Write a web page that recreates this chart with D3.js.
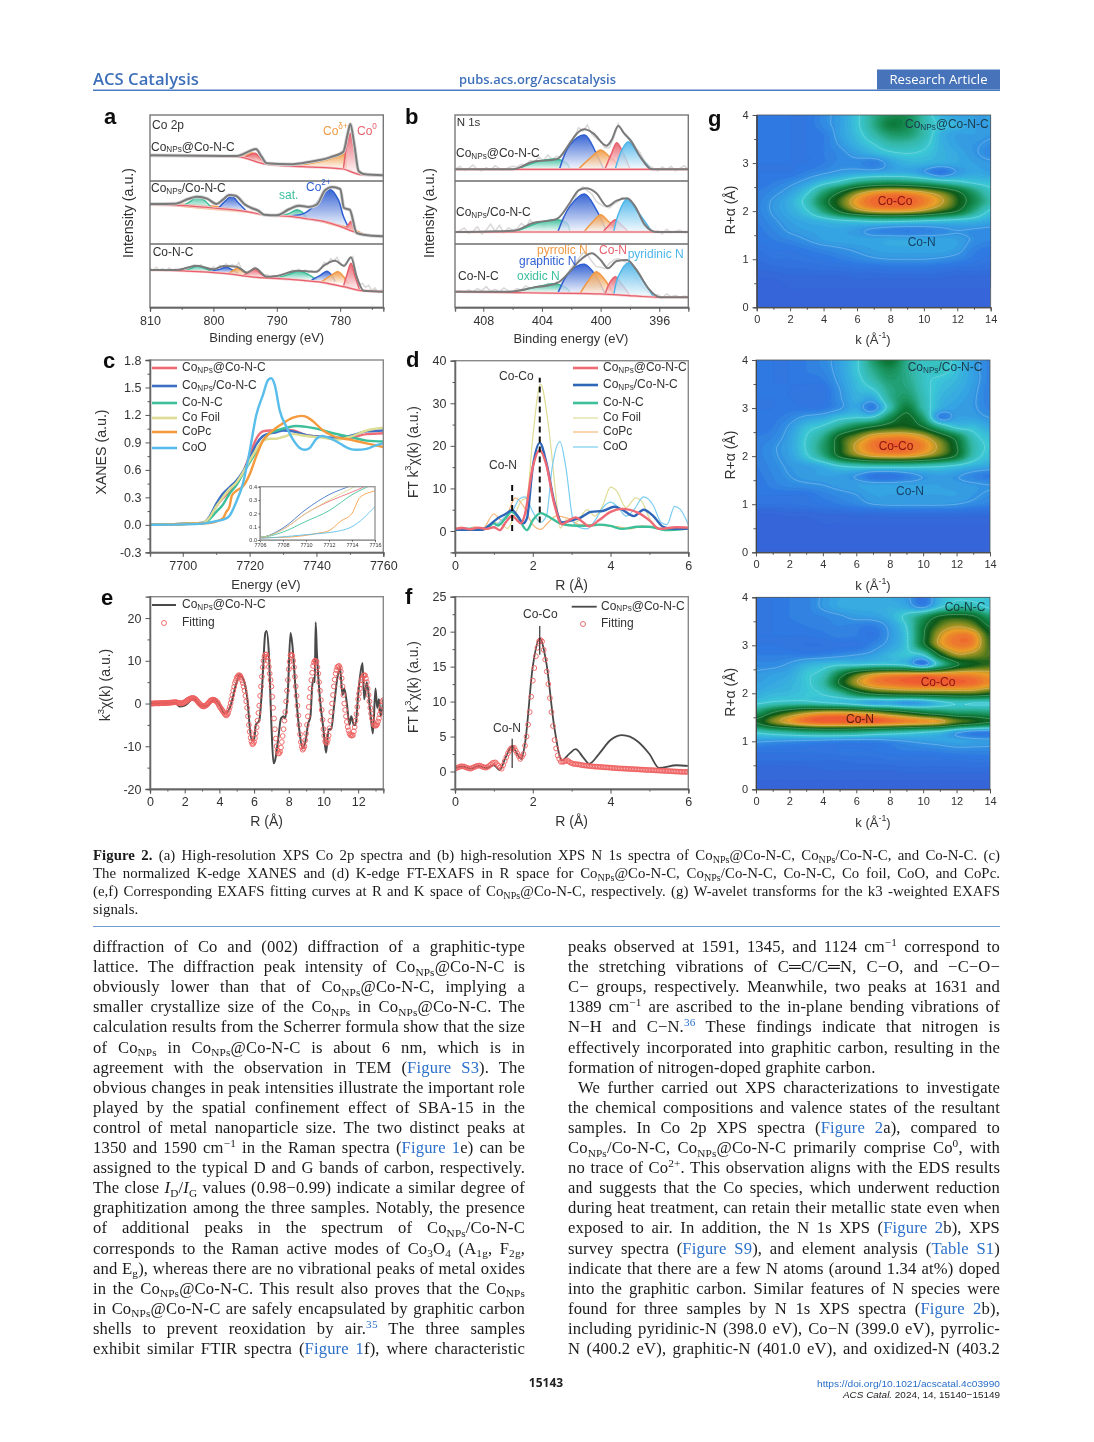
<!DOCTYPE html>
<html><head><meta charset="utf-8">
<script src="https://cdn.jsdelivr.net/npm/d3@7/dist/d3.min.js"></script>
<style>html,body{margin:0;padding:0;background:#fff}svg{display:block}text{font-family:"Liberation Sans",Arial,sans-serif;fill:#333}</style>
</head><body><div id="c"></div>
<script>
// ---------- DATA ----------
const ticksEV_a=[810,800,790,780], minorEV_a=[805,795,785,775];
const ticksEV_b=[408,404,400,396], minorEV_b=[406,402,398];
// panel a, Co 2p: [binding energy eV, intensity a.u.]
const a1Base=[[810,77],[796.3,73],[791.6,50],[785.8,43],[779.5,36],[777.9,25],[776.8,19],[773.2,17]];
const a1Total=[[810,77],[796.3,75],[794.7,86],[793.3,96],[792.4,73],[791.6,53],[787.9,50],[784.7,58],[781.6,71],[779.5,88],[778.8,143],[778.4,171],[777.8,113],[777.1,30],[776.3,21],[773.2,17]];
const a1Orange1=[[796.1,73],[795.2,78],[794.2,85],[793.4,80],[792.6,58]];
const a1Red1=[[795.3,68],[794.3,78],[793.4,83],[792.6,68],[791.8,53]];
const a1Orange2=[[786.8,46],[783.7,56],[780.5,73],[779.5,80],[779.2,83],[779.1,38]];
const a1Red2=[[779.5,36],[778.9,113],[778.4,143],[777.9,103],[777.1,25]];
const a2Base=[[810,118],[804.7,115],[800,108],[795,98],[791,85],[788,83],[785,75],[782,65],[780,53],[778,38],[776,28],[773.2,23]];
const a2Total=[[810,120],[806,121],[804,135],[802.6,142],[801,136],[799.5,120],[798.5,133],[797.5,147],[796.5,145],[795,118],[794,108],[793,101],[792,88],[790,86],[788,105],[786.5,115],[785,111],[783.7,118],[782.4,161],[781.3,171],[780,165],[779.4,108],[778.9,105],[778.5,103],[777.4,33],[776.3,28],[773.2,23]];
const a2Orange1=[[808.9,118],[803,118],[797,106],[792.6,88]];
const a2Teal1=[[804.7,116],[803.6,128],[802.6,142],[801.5,132],[800.3,109]];
const a2Blue1=[[799.2,107],[798.2,128],[797.1,143],[796,122],[794.7,96]];
const a2Teal2=[[789.2,85],[788,92],[786.8,103],[786,96],[785.3,78]];
const a2Blue2=[[789.5,85],[785.8,91],[783.7,123],[782.6,153],[781.5,163],[780.3,133],[779.5,83],[778.7,50]];
const a2Orange2=[[784.7,75],[781.6,63],[778.5,48],[775.8,25]];
const a2Red=[[779.2,45],[778.7,58],[778.3,68],[777.9,50],[777.5,30]];
const a3Base=[[810,112],[804.7,109],[798.4,102],[793.2,90],[787.9,84],[782.6,74],[779.5,62],[776.6,50],[773.2,47]];
const a3Total=[[810,112],[805.8,112],[802.6,125],[800,114],[798.4,124],[796.3,122],[794.7,104],[793.4,117],[791.6,92],[790,94],[786.8,110],[783.7,107],[782.6,125],[780.8,140],[779.4,124],[778.3,150],[777.4,92],[776.3,50],[773.2,47]];
const a3Raw=[118,110,120,112,116,108,118,112,115,113,112,118,112,122,128,122,128,120,117,110,122,114,126,120,130,124,128,120,134,112,106,108,112,120,112,105,96,98,88,96,92,98,100,96,105,112,104,114,106,112,104,110,105,112,118,135,128,146,138,150,132,125,134,145,152,100,68,72,60,66,50,58,44,52,46];
const a3Teal1=[[804.7,109],[803.6,116],[802.6,124],[801.4,117],[800.3,107]];
const a3Blue1=[[800.5,107],[799.2,113],[797.9,120],[797,112],[796.1,102]];
const a3Orange1=[[797.6,102],[796.9,110],[796.1,118],[795.2,107],[794.2,94]];
const a3Red1=[[795.5,92],[794.5,105],[793.5,115],[792.5,100],[791.6,88]];
const a3Teal2=[[790,88],[788.2,98],[786.6,109],[785,98],[783.7,82]];
const a3Blue2=[[784.5,82],[783.2,95],[782.1,108],[781.3,95],[780.8,77]];
const a3Orange2=[[782.9,77],[781.5,95],[780.3,107],[779.6,95],[778.7,70]];
const a3Red2=[[779.5,62],[778.9,100],[778.3,132],[777.7,95],[776.9,50]];
// panel b, N 1s
const b1Base=[[409.9,35],[394,35]];
const b1Total=[[409.9,35],[406,35],[404.6,58],[403,65],[402.1,113],[401.6,143],[401.1,155],[400.5,143],[399.6,106],[399.25,123],[398.8,165],[398.4,143],[397.9,118],[397.3,73],[396.5,35],[394,35]];
const b1Raw=[36,44,31,38,48,34,30,40,33,46,38,32,40,44,42,50,48,62,58,72,60,78,64,74,72,90,118,128,160,150,168,140,128,118,100,100,130,172,148,136,122,100,84,60,46,38,30,42,34,44,30,38,46,33];
const b1Teal=[[405.7,36],[404.1,60],[403.1,66],[402.3,53],[402.1,36]];
const b1Blue=[[402.8,36],[402.1,108],[401.1,138],[400.3,83],[399.8,36]];
const b1Orange=[[401.5,36],[400.6,73],[400,93],[399.4,73],[398.5,36]];
const b1Red=[[399.7,36],[399.25,83],[398.9,115],[398.45,83],[398,36]];
const b1Sky=[[399,36],[398.55,93],[398.1,118],[397.4,78],[396.6,36]];
const b2Base=[[409.9,36],[394,36]];
const b2Total=[[409.9,36],[405.95,40],[404.6,63],[403,75],[402.1,123],[401.5,161],[401,167],[400.3,153],[399.55,113],[398.9,130],[398.2,137],[397.65,113],[397,58],[396.2,36],[394,36]];
const b2Raw=[34,40,48,32,38,52,30,42,60,38,56,34,48,42,46,62,50,72,58,66,54,70,68,74,70,86,112,130,162,172,160,150,128,118,112,108,120,128,140,132,122,104,86,64,44,34,40,30,44,34,38,42,34,36];
const b2Teal=[[405.7,38],[404.1,65],[403,73],[402.3,63],[402.1,38]];
const b2Blue=[[402.9,38],[402.1,113],[401.1,150],[400.3,103],[399.6,38]];
const b2Orange=[[401.1,38],[400.5,68],[400,88],[399.4,65],[398.7,38]];
const b2Red=[[399.8,38],[399.4,58],[399,73],[398.6,58],[398.1,36]];
const b2Sky=[[399.1,38],[398.8,88],[398.2,135],[397.4,93],[396.5,36]];
const b3Base=[[409.9,47],[405.7,44],[402.3,42],[400.05,40],[397.7,34],[396,30],[394,30]];
const b3Total=[[409.9,47],[406.2,47],[404.6,59],[403,72],[402.1,107],[401.5,137],[400.6,162],[400,142],[399.5,117],[398.9,139],[398.2,142],[397.55,112],[396.75,57],[395.95,30],[394,30]];
const b3Raw=[48,50,44,52,46,56,50,62,48,54,46,58,50,48,56,52,64,56,60,62,58,72,66,76,74,92,112,130,146,164,158,138,122,120,116,132,142,146,140,134,116,92,70,56,44,34,38,28,40,32,36,30,34,32];
const b3Teal=[[405.7,47],[404.1,64],[403,70],[402.3,57],[402.1,45]];
const b3Blue=[[402.9,44],[402.1,107],[401.1,129],[400.3,92],[399.7,40]];
const b3Orange=[[401.4,42],[400.8,82],[400.3,107],[399.7,82],[399.1,37]];
const b3Red=[[399.7,39],[399.4,72],[399,92],[398.6,72],[398,35]];
const b3Sky=[[399.1,37],[398.8,92],[398.1,134],[397.3,92],[396.4,32]];
// panel c, XANES: [energy eV, mu]
const xanesNPsAt=[[7690,0],[7706,.02],[7708,.08],[7710,.2],[7712,.29],[7714,.36],[7716,.44],[7718,.57],[7720,.76],[7722,.94],[7724,1.02],[7726,1.03],[7728,1.03],[7730,1.04],[7733,1.03],[7737,.98],[7742,.96],[7746,.94],[7750,.95],[7755,.99],[7760,1]];
const xanesNPsSlash=[[7690,0],[7706,.02],[7708,.09],[7710,.23],[7712,.34],[7714,.41],[7716,.48],[7718,.58],[7720,.72],[7722,.88],[7724,.97],[7726,1],[7728,1.01],[7730,1.03],[7733,1.02],[7737,.98],[7742,.96],[7746,.95],[7750,.97],[7755,1.02],[7760,1.03]];
const xanesCoNC=[[7690,0],[7706,.02],[7708,.06],[7710,.14],[7712,.22],[7714,.34],[7716,.43],[7718,.56],[7720,.68],[7722,.8],[7724,.92],[7726,1],[7728,1.03],[7731,1.06],[7734,1.08],[7737,1.07],[7740,1.05],[7745,1],[7750,.96],[7755,.92],[7760,.91]];
const xanesFoil=[[7690,0],[7706,.02],[7708,.08],[7710,.2],[7712,.3],[7714,.39],[7716,.46],[7718,.57],[7720,.7],[7722,.82],[7724,.92],[7726,.94],[7728,.94],[7730,.96],[7733,.99],[7737,.97],[7742,.95],[7746,.93],[7750,.96],[7755,1.03],[7760,1.06]];
const xanesCoPc=[[7690,0],[7708,.02],[7711,.05],[7712,.07],[7713,.14],[7714,.2],[7714.7,.32],[7716,.37],[7718,.42],[7720,.55],[7722,.75],[7724,.92],[7726,1],[7728,1.06],[7730,1.11],[7733,1.17],[7735.5,1.19],[7737,1.18],[7739,1.13],[7742,1.03],[7745,.97],[7750,.93],[7755,.89],[7760,.85]];
const xanesCoO=[[7690,0],[7705,.01],[7710,.04],[7713,.07],[7714,.1],[7716,.25],[7718,.45],[7720,.8],[7722,1.2],[7724,1.42],[7725.5,1.58],[7726.5,1.6],[7727.5,1.53],[7729,1.25],[7731,1.07],[7733,.93],[7735,.84],[7736.5,.82],[7738,.84],[7740,.94],[7741.5,.97],[7743,.96],[7746,.91],[7750,.83],[7752,.82],[7755,.83],[7758,.87],[7760,.89]];
// panel d, FT-EXAFS: [R, magnitude]
const ftNPsAt=[[0,.5],[.2,.7],[.4,.4],[.6,.8],[.8,.5],[1,.9],[1.15,.2],[1.3,2],[1.47,3.6],[1.6,2.5],[1.7,1.8],[1.8,4],[2,15],[2.18,19],[2.35,15.5],[2.55,6.5],[2.75,1.6],[2.95,2.6],[3.1,3.2],[3.3,2],[3.45,1.1],[3.7,2.5],[4,4.5],[4.3,5.2],[4.7,4.3],[5,2.5],[5.25,.5],[5.7,.9],[6,.8]];
const ftNPsSlash=[[0,.3],[.7,.3],[.9,1.5],[1.1,3],[1.3,4],[1.47,4.9],[1.65,3],[1.75,1.8],[1.85,3],[2,15],[2.18,20.7],[2.35,16],[2.55,7],[2.75,2],[3,2.5],[3.2,3],[3.5,4.5],[3.8,4.7],[4.1,5.7],[4.3,5],[4.6,3.5],[4.85,5],[5.1,3.5],[5.35,1],[5.6,.5],[6,.6]];
const ftCoNC=[[0,.5],[.8,.6],[1,1.8],[1.1,1.3],[1.3,3],[1.45,4.5],[1.6,3.5],[1.85,.2],[2,2.5],[2.2,4.2],[2.4,3.4],[2.7,1.8],[3,1.3],[3.4,1.2],[3.7,1.5],[4,1.2],[4.3,.5],[4.7,1],[5,1],[5.4,.2],[6,.6]];
const ftFoil=[[0,.3],[.8,.6],[1,2],[1.2,1.5],[1.35,.6],[1.5,3],[1.7,7],[1.85,8],[2,22],[2.2,34.5],[2.4,25],[2.6,8],[2.7,.7],[2.9,3],[3.1,2],[3.4,5],[3.6,3.5],[3.8,6],[4,10.3],[4.15,9.5],[4.4,5.5],[4.65,7.8],[4.8,7],[5,3],[5.3,.6],[5.6,.7],[6,.6]];
const ftCoPc=[[0,.3],[.15,.9],[.3,.3],[.5,1],[.7,.4],[1,4],[1.2,2.5],[1.3,3],[1.55,7.8],[1.75,6],[2,1.5],[2.2,.4],[2.4,2],[2.6,3.5],[2.9,3],[3.2,1.5],[3.5,1.5],[3.8,1.3],[4.2,1],[4.5,.5],[4.8,1.2],[5,1],[5.5,.5],[6,.5]];
const ftCoO=[[0,.3],[.7,.3],[1,1],[1.3,3.5],[1.5,5],[1.65,7.5],[1.8,8],[2,4.5],[2.2,2],[2.35,3.5],[2.5,15],[2.7,21],[2.85,15],[3.05,2],[3.15,1],[3.4,.5],[3.6,2.5],[3.85,6],[4,6.8],[4.2,5.5],[4.4,3.5],[4.6,5],[4.85,8],[5.1,6],[5.3,2],[5.45,1.5],[5.65,5.8],[5.8,5],[6,1.5]];
// panel e, k-space
const kData=[[0,0],[1.5,.1],[1.7,-.7],[2,-.5],[2.5,1.1],[3,-.6],[3.3,-.5],[3.7,1],[4,-.3],[4.3,-2.3],[4.6,-1],[5,5],[5.15,6.6],[5.4,5.5],[5.6,1.5],[5.85,-8.5],[6,-8.5],[6.1,-5],[6.3,-4],[6.45,3],[6.65,16.5],[6.72,17],[6.85,12],[7,-5],[7.12,-14],[7.2,-13.5],[7.4,-8],[7.55,-3.5],[7.7,-3],[7.8,-3.5],[7.95,3],[8.1,16.5],[8.2,14],[8.4,3],[8.6,-6],[8.8,-10.5],[9,-8],[9.1,-5],[9.25,-3],[9.35,4],[9.45,6],[9.5,5],[9.55,19],[9.62,12],[9.8,1],[10,-6],[10.15,-11.5],[10.3,-6],[10.45,-6],[10.6,-1],[10.8,6],[10.95,8.5],[11.1,2],[11.2,3.5],[11.35,0],[11.5,-5],[11.6,-3],[11.75,-5],[11.85,-5],[12,2],[12.1,6],[12.25,9.5],[12.35,1],[12.5,5],[12.7,-2],[12.85,-7],[13,3.5],[13.1,-1],[13.2,1],[13.3,-3],[13.45,1]];
const kFitStep=0.05;
const kFit=[0,0,0,0,0,.05,.05,.05,.05,.05,.05,.05,.1,.1,.1,.1,.1,.1,.15,.15,.15,.15,.2,.2,.2,.25,.25,.25,.3,.3,
.3,.25,.2,.15,.1,.05,0,.05,.1,.2,.3,.45,.6,.75,.9,1,1.1,1.2,1.25,1.3,1.3,1.2,1.1,.9,.7,.45,.2,0,-.2,-.4,
-.6,-.65,-.7,-.6,-.5,-.35,-.2,.05,.3,.5,.7,.8,.9,.9,.85,.75,.6,.4,.2,-.2,-.6,-.9,-1.2,-1.5,-1.8,-2.1,-2.4,-2.6,-2.8,-2.6,
-2.2,-1.5,-.8,.1,1,2,3,3.9,4.8,5.4,6,6.3,6.6,6.6,6.5,6.1,5.5,4.8,4,3,1.8,.5,-1,-3,-5,-6.6,-8,-8.9,-9.5,-9.4,
-9,-8.1,-7,-5.6,-4,-2.2,-.5,1.8,4,6.3,8.5,10,11,11.4,11.5,10.9,10,8.6,7,5.5,4,1.6,-1,-3.5,-6,-8.2,-10,-11,-11.7,-11.6,
-11.3,-10.3,-9,-7.6,-6,-4,-2,.5,3,5.5,8,9.8,11.3,11.4,11.2,10,8.5,6.3,4,1.8,-.5,-2.8,-5,-7.2,-9,-10.1,-10.8,-10.5,-10,-8.6,
-7,-5,-3,-.8,1.5,3.5,5.5,7.2,8.8,9.6,10,10,9.8,8.5,7,5,3,.8,-1.5,-3.8,-6,-7.5,-8.8,-9.1,-9.2,-8.5,-7.5,-5.8,-4,-2,
0,2,4,5.6,7,7.8,8.5,8.7,8.8,8.3,7.5,5.9,4,2,0,-1.5,-3,-4.3,-5.5,-6.3,-7,-7.3,-7.5,-7.5,-7.4,-6.5,-5.5,-4,-2.5,-.8,
1,2.3,3.5,4.5,5.5,6,6.5,6.6,6.6,5.9,5,3.5,2,.5,-1,-2.3,-3.5,-4.3,-5,-5.1,-5.2,-5.1,-4.8,-4.2,-3.5,-2.5,-1.5,-.5,.5,.8];
// panel f, R-space fit
const rFitStep=0.04;
const rFit=[.4,.5,.6,.68,.75,.73,.7,.6,.5,.45,.4,.5,.6,.7,.8,.83,.85,.75,.65,.6,.55,.67,.8,1,1.2,1.27,1.3,1.05,.8,.6,.4,.9,1.5,2.05,2.6,3,3.3,3.38,3.4,3,2.6,2.2,1.8,2.1,2.5,3.7,5,6.7,8.5,10.7,13,14.8,16.5,17.7,18.6,18.8,18.6,17.4,16,14.3,12.5,10.5,8.5,6.5,4.5,3.3,2.3,1.8,1.4,1.4,1.4,1.5,1.6,1.45,1.3,1.2,1.1,1.07,1.05,1.02,1,.95,.9,.87,.85,.82,.8,.77,.75,.72,.7,.69,.68,.66,.65,.62,.6,.59,.58,.56,.55,.52,.5,.48,.47,.45,.44,.43,.42,.41,.4,.38,.37,.36,.35,.33,.32,.31,.3,.28,.27,.26,.25,.23,.22,.21,.2,.19,.18,.16,.15,.14,.13,.11,.1,.09,.08,.06,.05,.04,.03,.01,0,-.01,-.02,-.03,-.05,-.05,-.05,-.05,-.05,-.05,-.05];
// panel g, wavelet magnitude read on a grid (0-10 colour level)
const gridK=[0,1,2,3,4,5,6,7,8,9,10,11,12,13,14];
const gridR=[4,3.8,3.6,3.4,3.2,3,2.8,2.6,2.4,2.2,2,1.8,1.6,1.4,1.2,1,.8,.6,.4,.2,0];
const wt1=[
[1,1,1,1,1.5,2,3,4.5,5.5,5.5,4,2.5,2,2,2],
[1,1,1,1,1.5,2,3,4.5,6,5.5,4,3,2.5,2,2],
[1,1,1,1,1.2,2,2.8,4,5,5,4,2.5,2,2,1.8],
[1,1,1,1,1.2,1.8,2.5,3.2,4,4,3.5,2.5,2,1.8,1.6],
[1,1,1,1,1.2,1.5,2,2.5,3,3.2,3,2.5,2.2,1.8,1.5],
[1,1,1,1,1.2,1.5,1.5,1.2,2,2.5,2.5,2.3,2.2,2,1.8],
[1,1,1,1.3,1.6,1.9,2.1,2.2,2.3,2.3,1.8,1,1.8,2.2,2],
[1,1.2,1.5,2,2.8,3.5,4.5,5,5.2,5,4.6,4,3.5,3,2.8],
[1.2,1.5,2,3,4.8,6.4,8,8.9,9.2,9.1,8.6,7.8,6.6,5,3.5],
[1.3,1.8,2.4,3.6,5.8,7.6,9.2,9.9,10,10,9.6,8.8,7.3,5.6,4],
[1.3,1.8,2.3,3.1,4.8,6.6,8,8.7,8.9,8.8,8.3,7.4,6.4,4.6,3],
[1.2,1.6,2,2.3,2.6,3,3.2,3.5,3.5,3.4,3.2,3,2.8,2.6,2.2],
[1.1,1.4,1.8,2,2.1,2.1,1.9,1.5,1.3,1.2,1.3,1.5,1.7,1.6,1.5],
[1,1.2,1.4,1.7,2,2.1,2.1,2.1,2.2,2.2,2.2,2.1,2,1.6,1.4],
[.8,1,1,1.2,1.4,1.6,1.8,2,2.1,2.1,2.1,2.1,1.9,1.3,1.1],
[.6,.8,.8,.9,1,1.2,1.4,1.6,1.7,1.7,1.7,1.6,1.4,1.1,.9],
[.4,.5,.6,.6,.7,.7,.8,.8,.9,.9,.9,.8,.7,.7,.6],
[.2,.2,.3,.3,.3,.3,.4,.4,.4,.4,.4,.4,.3,.3,.3],
[.1,.1,.2,.2,.2,.2,.2,.2,.2,.2,.2,.2,.2,.2,.2],
[.1,.1,.1,.1,.1,.1,.1,.1,.1,.1,.1,.1,.1,.1,.1],
[0,0,0,0,0,0,0,0,0,0,0,0,0,0,0]];
const wt2=[
[1,1,1,1.2,1.5,2,3,5,6.3,4.5,3.5,3.5,3,2,1.3],
[1,1,1,1.2,1.4,2,3,4.5,5.5,4.5,3.5,3.6,2.8,2,1.3],
[1,1,1,1.1,1.2,1.9,2.8,4,5,4.6,3.5,3,2.6,2,1.3],
[1,1,1,.9,.9,1.7,2.6,3.2,4.6,4.8,3.6,2.8,2.4,1.9,1.2],
[1,1,1,.9,.9,1.6,2.4,2.2,4.3,5.2,3.8,2.6,2.2,1.8,1.2],
[1,1,1.1,1,1.1,1.6,2.2,1.2,3.8,6,4,2.4,2,1.8,1.3],
[1,1.1,1.4,1.9,2.2,2.9,3.2,3.4,5.5,6.8,5,1.4,2,2,1.7],
[1,1.2,1.8,2.8,3.4,4.6,5.8,6.6,7.2,7.3,6.5,4.5,3,2.8,2.2],
[1.2,1.4,2,3.2,4.5,6.8,8,9.1,9.4,9.4,8.8,7.4,5.8,3.6,2.8],
[1.3,1.6,2.1,3.3,5,7,8.8,9.7,10,9.9,9.5,8.3,6.5,4,3],
[1.3,1.6,2,3,4.5,6.6,7.9,8.7,8.9,8.9,8.4,7.5,6.2,3.8,2.8],
[1.2,1.5,1.8,2,2.4,3.2,3.6,3.8,3.8,3.8,3.6,3.4,3,2.5,2.2],
[1.1,1.4,1.7,1.9,2,2,1.7,1,.9,1.3,1.8,2,1.8,1.4,1.1],
[1,1.3,1.5,1.6,1.7,1.9,2,2,2,2,2,2,1.9,1.8,1.7],
[1,1,1,1,1.3,1.5,1.7,2,2,2,2,2,2,1.8,1.6],
[.8,.8,.8,.9,1,1.2,1.4,1.7,1.8,1.8,1.8,1.8,1.7,1.5,1.3],
[.2,.2,.3,.3,.4,.4,.5,.5,.6,.6,.6,.6,.6,.5,.5],
[.1,.1,.1,.1,.2,.2,.2,.2,.2,.2,.2,.2,.2,.2,.2],
[.1,.1,.1,.1,.1,.1,.1,.1,.1,.1,.1,.1,.1,.1,.1],
[.1,.1,.1,.1,.1,.1,.1,.1,.1,.1,.1,.1,.1,.1,.1],
[0,0,0,0,0,0,0,0,0,0,0,0,0,0,0]];
const wt3=[
[1,1,1.2,1.3,1.8,2.2,2.3,2.3,2.2,1.9,.9,2.5,3,3,3],
[1,1,1.2,1.3,1.8,2.2,2.3,2.3,2.4,2.2,1.5,3,4,3.8,3],
[1,1,1.2,1.3,1.4,1.6,1.9,2,2.4,3.5,5,6.6,7,6.6,5],
[1,1,1.1,1.2,1.3,1.4,1.3,1.2,1.9,3.2,6,7.8,8.5,8,6.3],
[1,1,1,1,1.1,1.3,1.2,1,1.8,3,6.2,8.7,9.6,9.4,7.2],
[1,1,.9,.8,.8,.9,.9,1.4,2,3,6,8.7,9.6,9.4,7.5],
[1.2,1.2,1.2,1.2,1.3,1.5,1.7,2,2.6,3,3.2,6.6,8.4,8.2,7.6],
[1.5,1.5,1.8,2.4,2.7,3,3,3.2,3.2,2.8,1.2,4,6.2,7,7.4],
[1.8,2,2.2,3,3.6,5.7,7.5,8.6,9,9.1,9.2,9.2,9.3,9.3,9],
[2,2.2,2.5,3,4,6.5,8.4,9.4,9.7,9.9,10,10,10,9.8,9.3],
[2.3,2.6,2.7,3,3.3,4.2,5.8,6.8,7.2,7.4,7.5,7.6,7.7,7.7,7.2],
[3,3.4,3.6,3.6,3.3,3,2.6,2,2.1,1.7,2,2.8,3.3,3.2,3.2],
[5,6.4,7.5,8.3,8.7,8.8,8.6,8.2,7.5,6.8,6,5.5,5,5,4.8],
[6.5,8,9,9.7,10,10,10,10,9.8,9.5,9.3,8.9,7.8,7.2,6.5],
[3.5,4,4.4,4.8,5,5,4.8,4.4,4.1,3.8,3.4,3,2,1.4,1.3],
[1.8,1.7,1.6,1.5,1.4,1.3,1.3,1.3,1.5,1.7,1.9,2,2.1,2,1.9],
[.9,.9,.9,.9,.9,1,1,1,1.1,1.2,1.2,1.3,1.4,1.4,1.4],
[.6,.6,.6,.6,.6,.6,.7,.7,.8,.8,.8,.8,.8,.9,.9],
[.3,.3,.3,.3,.4,.4,.4,.4,.4,.5,.5,.5,.5,.5,.5],
[.2,.2,.2,.2,.2,.2,.2,.2,.2,.2,.2,.2,.2,.2,.2],
[.1,.1,.1,.1,.1,.1,.1,.1,.1,.1,.1,.1,.1,.1,.1]];
// page text
const captionLines=[
"**Figure 2.** (a) High-resolution XPS Co 2p spectra and (b) high-resolution XPS N 1s spectra of Co_{NPs}@Co-N-C, Co_{NPs}/Co-N-C, and Co-N-C. (c)",
"The normalized K-edge XANES and (d) K-edge FT-EXAFS in R space for Co_{NPs}@Co-N-C, Co_{NPs}/Co-N-C, Co-N-C, Co foil, CoO, and CoPc.",
"(e,f) Corresponding EXAFS fitting curves at R and K space of Co_{NPs}@Co-N-C, respectively. (g) W-avelet transforms for the k3 -weighted EXAFS",
"signals."];
const leftLines=[
"diffraction of Co and (002) diffraction of a graphitic-type",
"lattice. The diffraction peak intensity of Co_{NPs}@Co-N-C is",
"obviously lower than that of Co_{NPs}@Co-N-C, implying a",
"smaller crystallize size of the Co_{NPs} in Co_{NPs}@Co-N-C. The",
"calculation results from the Scherrer formula show that the size",
"of Co_{NPs} in Co_{NPs}@Co-N-C is about 6 nm, which is in",
"agreement with the observation in TEM ([[Figure S3]]). The",
"obvious changes in peak intensities illustrate the important role",
"played by the spatial confinement effect of SBA-15 in the",
"control of metal nanoparticle size. The two distinct peaks at",
"1350 and 1590 cm^{−1} in the Raman spectra ([[Figure 1]]e) can be",
"assigned to the typical D and G bands of carbon, respectively.",
"The close ~~I~~_{D}/~~I~~_{G} values (0.98−0.99) indicate a similar degree of",
"graphitization among the three samples. Notably, the presence",
"of additional peaks in the spectrum of Co_{NPs}/Co-N-C",
"corresponds to the Raman active modes of Co_{3}O_{4} (A_{1g}, F_{2g},",
"and E_{g}), whereas there are no vibrational peaks of metal oxides",
"in the Co_{NPs}@Co-N-C. This result also proves that the Co_{NPs}",
"in Co_{NPs}@Co-N-C are safely encapsulated by graphitic carbon",
"shells to prevent reoxidation by air.^{[[35]]} The three samples",
"exhibit similar FTIR spectra ([[Figure 1]]f), where characteristic"];
const rightLines=[
"peaks observed at 1591, 1345, and 1124 cm^{−1} correspond to",
"the stretching vibrations of C═C/C═N, C−O, and −C−O−",
"C− groups, respectively. Meanwhile, two peaks at 1631 and",
"1389 cm^{−1} are ascribed to the in-plane bending vibrations of",
"N−H and C−N.^{[[36]]} These findings indicate that nitrogen is",
"effectively incorporated into graphitic carbon, resulting in the",
"formation of nitrogen-doped graphite carbon.",
"We further carried out XPS characterizations to investigate",
"the chemical compositions and valence states of the resultant",
"samples. In Co 2p XPS spectra ([[Figure 2]]a), compared to",
"Co_{NPs}/Co-N-C, Co_{NPs}@Co-N-C primarily comprise Co^{0}, with",
"no trace of Co^{2+}. This observation aligns with the EDS results",
"and suggests that the Co species, which underwent reduction",
"during heat treatment, can retain their metallic state even when",
"exposed to air. In addition, the N 1s XPS ([[Figure 2]]b), XPS",
"survey spectra ([[Figure S9]]), and element analysis ([[Table S1]])",
"indicate that there are a few N atoms (around 1.34 at%) doped",
"into the graphitic carbon. Similar features of N species were",
"found for three samples by N 1s XPS spectra ([[Figure 2]]b),",
"including pyridinic-N (398.0 eV), Co−N (399.0 eV), pyrrolic-",
"N (400.2 eV), graphitic-N (401.0 eV), and oxidized-N (403.2"];

// ---------- HELPERS ----------
const RED="#e8606c",BLUE="#2f5fd2",ORANGE="#f09a45",TEAL="#3cbf9c",SKY="#4fb6ea",GREY="#7a7a7a";
const page=d3.select("#c").append("svg").attr("width",1094).attr("height",1442).attr("viewBox","0 0 1094 1442");
page.append("rect").attr("width",1094).attr("height",1442).attr("fill","#fff");
const defs=page.append("defs");
defs.append("filter").attr("id","soft").attr("filterUnits","userSpaceOnUse").attr("x",0).attr("y",0).attr("width",1094).attr("height",1442)
  .append("feGaussianBlur").attr("stdDeviation",.45);
const svg=page.append("g").attr("filter","url(#soft)");
[[RED,"gRed"],[BLUE,"gBlue"],[ORANGE,"gOrange"],[TEAL,"gTeal"],[SKY,"gSky"]].forEach(([c,id])=>{
  const g=defs.append("linearGradient").attr("id",id).attr("x1",0).attr("x2",0).attr("y1",0).attr("y2",1);
  g.append("stop").attr("offset","0%").attr("stop-color",c).attr("stop-opacity",.95);
  g.append("stop").attr("offset","100%").attr("stop-color",c).attr("stop-opacity",.06);
});
function rich(sel,str,size,opt={}){
  const re=/(\*\*.*?\*\*|~~.*?~~|\[\[.*?\]\]|_\{.*?\}|\^\{(?:\[\[.*?\]\]|.*?)\})/g;
  let pending=0;
  const link=opt.link||"#2a6fc9";
  str.split(re).filter(s=>s!=="").forEach(p=>{
    const t=sel.append("tspan");let txt=p,dy=0,back=0;
    if(p.startsWith("**")){txt=p.slice(2,-2);t.attr("font-weight","700");}
    else if(p.startsWith("~~")){txt=p.slice(2,-2);t.attr("font-style","italic");}
    else if(p.startsWith("[[")){txt=p.slice(2,-2);t.style("fill",link);}
    else if(p.startsWith("_{")){txt=p.slice(2,-1);t.attr("font-size",size*.68);dy=size*.22;back=-dy;}
    else if(p.startsWith("^{")){txt=p.slice(2,-1);
      if(txt.startsWith("[[")){txt=txt.slice(2,-2);t.style("fill",link);}
      t.attr("font-size",size*.68);dy=-size*.38;back=-dy;}
    if(pending+dy!==0)t.attr("dy",pending+dy);
    pending=back;t.text(txt);
  });
  return sel;
}
function label(g,x,y,str,o={}){
  const size=o.size||12;
  const t=g.append("text").attr("x",x).attr("y",y).attr("font-size",size).attr("text-anchor",o.anchor||"start").attr("dominant-baseline","middle");
  if(o.fill)t.style("fill",o.fill);
  if(o.rotate)t.attr("transform",`rotate(${o.rotate} ${x} ${y})`);
  if(o.weight)t.attr("font-weight",o.weight);
  rich(t,str,size,{link:o.fill});
  return t;
}
function frame(x0,y0,x1,y1){return {g:svg.append("g").attr("transform",`translate(${x0},${y0})`),w:x1-x0,h:y1-y0};}
const hy=d=>String(d).replace("−","-");
function axes(p,x,y,o){
  const c=o.color||"#666",fs=o.fs||12.5;
  const style=s=>{s.selectAll("path").attr("stroke",c).attr("stroke-width",o.sw||1.3);s.selectAll("line").attr("stroke","#555").attr("stroke-width",1);s.selectAll("text").attr("font-size",fs).style("fill","#333");};
  const fmt=o.xFmt||(d=>d);
  p.g.append("g").attr("transform",`translate(0,${p.h})`).call(d3.axisBottom(x).tickValues(o.xMinor||[]).tickSize(o.minorLen||2.5).tickFormat("")).call(style);
  p.g.append("g").attr("transform",`translate(0,${p.h})`).call(d3.axisBottom(x).tickValues(o.xMajor).tickSize(o.majorLen||4.5).tickPadding(o.pad||4).tickFormat(fmt)).call(style);
  if(y&&o.yMajor){
    const yf=o.yFmt||(d=>d);
    p.g.append("g").call(d3.axisLeft(y).tickValues(o.yMinor||[]).tickSize(o.minorLen||2.5).tickFormat("")).call(style);
    p.g.append("g").call(d3.axisLeft(y).tickValues(o.yMajor).tickSize(o.majorLen||4.5).tickPadding(o.pad||4).tickFormat(d=>hy(yf(d)))).call(style);
  }
}
function box(p,c){p.g.append("rect").attr("width",p.w).attr("height",p.h).attr("fill","none").attr("stroke",c||"#777").attr("stroke-width",1.4);}
function clip(p,id){defs.append("clipPath").attr("id",id).append("rect").attr("width",p.w).attr("height",p.h);return `url(#${id})`;}
const line=(x,y)=>d3.line().x(d=>x(d[0])).y(d=>y(d[1])).curve(d3.curveMonotoneX);
const compLine=(x,y)=>d3.line().x(d=>x(d[0])).y(d=>y(d[1])).curve(d3.curveCatmullRom.alpha(.5));
function curve(g,data,x,y,color,w,op){g.append("path").attr("d",line(x,y)(data)).attr("fill","none").attr("stroke",color).attr("stroke-width",w).attr("stroke-opacity",op==null?1:op).attr("stroke-linejoin","round");}

// ---------- XPS PANELS ----------
function xpsStack(xDom,x0,x1,subs,tMajor,tMinor,id,rawDx,rawStart){
  const top=115,bot=307.3,seps=[181,244];
  const p=frame(x0,top,x1,bot);
  const x=d3.scaleLinear().domain(xDom).range([0,p.w]);
  const edges=[top,...seps,bot];
  const cp=clip(p,id);
  const g=p.g.append("g").attr("clip-path",cp);
  subs.forEach((s,i)=>{
    const y0=edges[i]-top,y1=edges[i+1]-top;
    const yScale=d3.scaleLinear().domain([0,(y1-y0)*3]).range([y1,y0]);
    const sg=g.append("g");
    if(s.raw){const rawPts=s.raw.map((v,j)=>[rawStart-j*rawDx,v]);
      sg.append("path").attr("d",d3.line().x(d=>x(d[0])).y(d=>yScale(d[1]))(rawPts)).attr("fill","none").attr("stroke","#d8d8d8").attr("stroke-width",1.5);}
    s.comps.forEach(([data,col,grad])=>{
      sg.append("path").attr("d",compLine(x,yScale)(data)+"Z").attr("fill","#fff").attr("fill-opacity",.7).attr("stroke","none");
      sg.append("path").attr("d",compLine(x,yScale)(data)+"Z").attr("fill",`url(#${grad})`).attr("stroke","none");
      sg.append("path").attr("d",compLine(x,yScale)(data)).attr("fill","none").attr("stroke",col).attr("stroke-width",1.5);
    });
    curve(sg,s.base,x,yScale,"#f6c9cc",2.6);
    curve(sg,s.base,x,yScale,RED,1.2);
    if(!s.raw)curve(sg,s.total,x,yScale,"#d6d6d6",3.6);
    curve(sg,s.total,x,yScale,GREY,2);
  });
  box(p);
  seps.forEach(s=>p.g.append("rect").attr("x",0).attr("y",s-top-.8).attr("width",p.w).attr("height",1.6).attr("fill","#777"));
  axes(p,x,null,{xMajor:tMajor,xMinor:tMinor});
  return p;
}
xpsStack([810,773.2],150,383.3,[
 {base:a1Base,total:a1Total,comps:[[a1Orange1,ORANGE,"gOrange"],[a1Red1,RED,"gRed"],[a1Orange2,ORANGE,"gOrange"],[a1Red2,RED,"gRed"]]},
 {base:a2Base,total:a2Total,comps:[[a2Orange1,ORANGE,"gOrange"],[a2Teal1,TEAL,"gTeal"],[a2Blue1,BLUE,"gBlue"],[a2Teal2,TEAL,"gTeal"],[a2Blue2,BLUE,"gBlue"],[a2Orange2,ORANGE,"gOrange"],[a2Red,RED,"gRed"]]},
 {base:a3Base,total:a3Total,raw:a3Raw,comps:[[a3Teal1,TEAL,"gTeal"],[a3Blue1,BLUE,"gBlue"],[a3Orange1,ORANGE,"gOrange"],[a3Red1,RED,"gRed"],[a3Teal2,TEAL,"gTeal"],[a3Blue2,BLUE,"gBlue"],[a3Orange2,ORANGE,"gOrange"],[a3Red2,RED,"gRed"]]}
],ticksEV_a,minorEV_a,"clipA",.5,810);
xpsStack([409.93,394.02],455,688.3,[
 {base:b1Base,total:b1Total,raw:b1Raw,comps:[[b1Teal,TEAL,"gTeal"],[b1Blue,BLUE,"gBlue"],[b1Orange,ORANGE,"gOrange"],[b1Red,RED,"gRed"],[b1Sky,SKY,"gSky"]]},
 {base:b2Base,total:b2Total,raw:b2Raw,comps:[[b2Teal,TEAL,"gTeal"],[b2Blue,BLUE,"gBlue"],[b2Orange,ORANGE,"gOrange"],[b2Red,RED,"gRed"],[b2Sky,SKY,"gSky"]]},
 {base:b3Base,total:b3Total,raw:b3Raw,comps:[[b3Teal,TEAL,"gTeal"],[b3Blue,BLUE,"gBlue"],[b3Orange,ORANGE,"gOrange"],[b3Red,RED,"gRed"],[b3Sky,SKY,"gSky"]]}
],ticksEV_b,minorEV_b,"clipB",.3,409.9);

// ---------- PANEL C ----------
(function(){
  const p=frame(150,360,383.3,552.3);
  const x=d3.scaleLinear().domain([7690.2,7760]).range([0,p.w]);
  const y=d3.scaleLinear().domain([-.3,1.8]).range([p.h,0]);
  const cp=clip(p,"clipC");const g=p.g.append("g").attr("clip-path",cp);
  const series=[[xanesNPsAt,"#ef6a75"],[xanesNPsSlash,"#3c70c4"],[xanesCoNC,"#3cc09a"],[xanesFoil,"#dcdc92"],[xanesCoPc,"#f59a3e"],[xanesCoO,"#58bdeb"]];
  series.forEach(([d,c])=>curve(g,d,x,y,c,2.4));
  box(p,"#888");
  axes(p,x,y,{xMajor:[7700,7720,7740,7760],xMinor:[7710,7730,7750],yMajor:[-.3,0,.3,.6,.9,1.2,1.5,1.8],yMinor:[-.15,.15,.45,.75,1.05,1.35,1.65],yFmt:d3.format(".1f")});
  const q=frame(260,486.7,375,540);
  q.g.append("rect").attr("width",q.w).attr("height",q.h).attr("fill","#fff");
  const ix=d3.scaleLinear().domain([7706,7716]).range([0,q.w]);
  const iy=d3.scaleLinear().domain([0,.4]).range([q.h,0]);
  const ic=clip(q,"clipI");const ig=q.g.append("g").attr("clip-path",ic);
  series.forEach(([d,c])=>curve(ig,d,ix,iy,c,1,.85));
  box(q,"#999");
  axes(q,ix,iy,{xMajor:[7706,7708,7710,7712,7714,7716],yMajor:[0,.1,.2,.3,.4],xMinor:[],yMinor:[],fs:5.5,majorLen:1.5,pad:1.5,sw:.8,yFmt:d3.format(".1f"),color:"#999"});
  const names=["Co_{NPs}@Co-N-C","Co_{NPs}/Co-N-C","Co-N-C","Co Foil","CoPc","CoO"];
  const ly=[368,386,403,418,432,448];
  names.forEach((n,i)=>{svg.append("line").attr("x1",152).attr("x2",177).attr("y1",ly[i]).attr("y2",ly[i]).attr("stroke",series[i][1]).attr("stroke-width",2.6);
    label(svg,182,ly[i],n);});
})();
// ---------- PANEL D ----------
(function(){
  const p=frame(455,360.7,688.3,552.3);
  const x=d3.scaleLinear().domain([0,6]).range([0,p.w]);
  const y=d3.scaleLinear().domain([-5,40]).range([p.h,0]);
  const cp=clip(p,"clipD");const g=p.g.append("g").attr("clip-path",cp);
  curve(g,ftFoil,x,y,"#dedc96",1.2);curve(g,ftCoPc,x,y,"#f7b67a",1.2);curve(g,ftCoO,x,y,"#7ccdf2",1.2);
  curve(g,ftCoNC,x,y,"#3cc09a",2.4);curve(g,ftNPsSlash,x,y,"#2f66b8",2.4);curve(g,ftNPsAt,x,y,"#ef6a75",2.4);
  [[1.47,0,11.5],[2.18,2,36]].forEach(([r,a,b])=>g.append("line").attr("x1",x(r)).attr("x2",x(r)).attr("y1",y(a)).attr("y2",y(b)).attr("stroke","#111").attr("stroke-width",2).attr("stroke-dasharray","6 4"));
  box(p,"#888");
  axes(p,x,y,{xMajor:[0,2,4,6],xMinor:[1,3,5],yMajor:[0,10,20,30,40],yMinor:[-5,5,15,25,35]});
  const names=["Co_{NPs}@Co-N-C","Co_{NPs}/Co-N-C","Co-N-C","Co Foil","CoPc","CoO"];
  const cols=["#ef6a75","#2f66b8","#3cc09a","#dedc96","#f7b67a","#7ccdf2"],ws=[2.6,2.6,2.6,1.2,1.2,1.2],ly=[368,385,403,418,432,447];
  names.forEach((n,i)=>{svg.append("line").attr("x1",573).attr("x2",598).attr("y1",ly[i]).attr("y2",ly[i]).attr("stroke",cols[i]).attr("stroke-width",ws[i]);
    label(svg,603,ly[i],n);});
  label(svg,499,377,"Co-Co");label(svg,489,466,"Co-N");
})();
// ---------- PANEL E ----------
(function(){
  const p=frame(150,596.7,383.3,789);
  const x=d3.scaleLinear().domain([0,13.45]).range([0,p.w]);
  const y=d3.scaleLinear().domain([-20,25]).range([p.h,0]);
  const cp=clip(p,"clipE");const g=p.g.append("g").attr("clip-path",cp);
  curve(g,kData,x,y,"#4a4a4a",2);
  g.selectAll("circle").data(kFit).join("circle").attr("cx",(d,i)=>x(i*kFitStep)).attr("cy",d=>y(d)).attr("r",2.4).attr("fill","none").attr("stroke","#ee5f5f").attr("stroke-width",.9);
  box(p,"#888");
  axes(p,x,y,{xMajor:[0,2,4,6,8,10,12],xMinor:[1,3,5,7,9,11,13],yMajor:[-20,-10,0,10,20],yMinor:[-15,-5,5,15]});
  svg.append("line").attr("x1",152).attr("x2",176).attr("y1",605).attr("y2",605).attr("stroke","#4a4a4a").attr("stroke-width",2);
  label(svg,182,605,"Co_{NPs}@Co-N-C");
  svg.append("circle").attr("cx",164).attr("cy",623).attr("r",2.5).attr("fill","none").attr("stroke","#ee5f5f").attr("stroke-width",.9);
  label(svg,182,623,"Fitting");
})();
// ---------- PANEL F ----------
(function(){
  const p=frame(455,596.7,688.3,789);
  const x=d3.scaleLinear().domain([0,6]).range([0,p.w]);
  const y=d3.scaleLinear().domain([-2.5,25]).range([p.h,0]);
  const cp=clip(p,"clipF");const g=p.g.append("g").attr("clip-path",cp);
  curve(g,ftNPsAt,x,y,"#4a4a4a",1.8);
  g.selectAll("circle").data(rFit).join("circle").attr("cx",(d,i)=>x(i*rFitStep)).attr("cy",d=>y(d)).attr("r",2.4).attr("fill","none").attr("stroke","#ee5f5f").attr("stroke-width",.9);
  [[1.47,.5,4.7],[2.18,16.7,20.8]].forEach(([r,a,b])=>g.append("line").attr("x1",x(r)).attr("x2",x(r)).attr("y1",y(a)).attr("y2",y(b)).attr("stroke","#222").attr("stroke-width",1.1));
  box(p,"#888");
  axes(p,x,y,{xMajor:[0,2,4,6],xMinor:[1,3,5],yMajor:[0,5,10,15,20,25],yMinor:[-2.5,2.5,7.5,12.5,17.5,22.5]});
  svg.append("line").attr("x1",571.7).attr("x2",596.7).attr("y1",606.7).attr("y2",606.7).attr("stroke","#4a4a4a").attr("stroke-width",1.8);
  label(svg,601,606.7,"Co_{NPs}@Co-N-C");
  svg.append("circle").attr("cx",583).attr("cy",624).attr("r",2.5).attr("fill","none").attr("stroke","#ee5f5f").attr("stroke-width",.9);
  label(svg,601,624,"Fitting");
  label(svg,523,614.5,"Co-Co");label(svg,493,729,"Co-N");
})();
// ---------- PANEL G ----------
const levelColor=d3.scaleLinear().domain([0,1,2,3,4,5,6,7,8,9,10])
 .range(["#3565d8","#2f7ae2","#36a4e2","#3cc8d6","#35b8a8","#1f9a68","#0e7a3a","#0b5a1c","#7f8c22","#eaa02a","#ef5c30"]).interpolate(d3.interpolateRgb);
function cr(p0,p1,p2,p3,t){return .5*((2*p1)+(-p0+p2)*t+(2*p0-5*p1+4*p2-p3)*t*t+(-p0+3*p1-3*p2+p3)*t*t*t);}
function upsample(grid,f){
  const m=grid.length,n=grid[0].length,W=(n-1)*f+1,H=(m-1)*f+1,out=new Float64Array(W*H);
  const col=(r,c)=>grid[Math.max(0,Math.min(m-1,r))][Math.max(0,Math.min(n-1,c))];
  for(let j=0;j<H;j++){const rf=j/f,r=Math.min(m-2,Math.floor(rf)),tr=rf-r;
    for(let i=0;i<W;i++){const cf=i/f,c=Math.min(n-2,Math.floor(cf)),tc=cf-c;
      const v=[-1,0,1,2].map(dr=>cr(col(r+dr,c-1),col(r+dr,c),col(r+dr,c+1),col(r+dr,c+2),tc));
      out[j*W+i]=cr(v[0],v[1],v[2],v[3],tr);}}
  return {W,H,out};
}
function wavelet(grid,x0,y0,x1,y1,id,labels,xlabY){
  const p=frame(x0,y0,x1,y1);
  const x=d3.scaleLinear().domain([gridK[0],gridK[gridK.length-1]]).range([0,p.w]);
  const y=d3.scaleLinear().domain([0,4]).range([p.h,0]);
  const cp=clip(p,id);const g=p.g.append("g").attr("clip-path",cp);
  g.append("rect").attr("width",p.w).attr("height",p.h).attr("fill",levelColor(0));
  const F=6,{W,H,out}=upsample(grid,F);
  const proj=d3.geoTransform({point(px,py){
    this.stream.point(x((px-.5)/(W-1)*14), y(4-(py-.5)/(H-1)*4));}});
  const path=d3.geoPath(proj);
  const th=d3.range(.2,10.2,.2);
  const cs=d3.contours().size([W,H]).thresholds(th).smooth(true)(Array.from(out));
  g.selectAll("path.f").data(cs).join("path").attr("class","f").attr("d",path).attr("fill",d=>levelColor(d.value)).attr("stroke",d=>levelColor(d.value)).attr("stroke-width",.4);
  const ln=d3.contours().size([W,H]).thresholds([1.7,3.2,6.4,8.6])(Array.from(out));
  g.selectAll("path.l").data(ln).join("path").attr("class","l").attr("d",path).attr("fill","none").attr("stroke","#fff").attr("stroke-opacity",.3).attr("stroke-width",.8);
  p.g.append("rect").attr("width",p.w).attr("height",p.h).attr("fill","none").attr("stroke","#555").attr("stroke-width",.8);
  axes(p,x,y,{xMajor:[0,2,4,6,8,10,12,14],xMinor:[1,3,5,7,9,11,13],yMajor:[0,1,2,3,4],yMinor:[.5,1.5,2.5,3.5],fs:11,majorLen:4,minorLen:2.5,sw:.8,color:"#444"});
  labels.forEach(l=>label(svg,l[0],l[1],l[2],{fill:l[3],anchor:l[4]||"middle",size:12}));
  label(svg,873,xlabY,"k (Å^{-1})",{anchor:"middle",size:13});
  label(svg,731,(y0+y1)/2-1,"R+α (Å)",{anchor:"middle",rotate:-90,size:14});
}
wavelet(wt1,756.7,115,990.7,307.3,"clipG1",[[905,125,"Co_{NPs}@Co-N-C","#1b3a4a","start"],[895,201.7,"Co-Co","#8a1410"],[921.7,243,"Co-N","#163f6a"]],341);
wavelet(wt2,756,360,990,552.3,"clipG2",[[907.7,368,"Co_{NPs}/Co-N-C","#1b3a4a","start"],[896,446.7,"Co-Co","#8a1410"],[910,492,"Co-N","#163f6a"]],586.7);
wavelet(wt3,756,597.3,990,789.3,"clipG3",[[965,608,"Co-N-C","#103c3c"],[938,682.7,"Co-Co","#8a1410"],[860,720,"Co-N","#5a1a10"]],824);

// ---------- PANEL TEXT ----------
[["a",104,118],["b",405,118],["c",103,362],["d",406,361],["e",101,599],["f",405,598],["g",708,120]].forEach(([t,x,y])=>label(svg,x,y,t,{size:22,weight:700,fill:"#111"}));
label(svg,152,125.7,"Co 2p");label(svg,151,147.7,"Co_{NPs}@Co-N-C");
label(svg,323,132,"Co^{δ+}",{fill:ORANGE});label(svg,357,132,"Co^{0}",{fill:RED});
label(svg,151,189,"Co_{NPs}/Co-N-C");label(svg,279,196,"sat.",{fill:TEAL});label(svg,306,188,"Co^{2+}",{fill:BLUE});
label(svg,152.7,253,"Co-N-C");
label(svg,456.7,123,"N 1s",{size:11.5});label(svg,456,154,"Co_{NPs}@Co-N-C");label(svg,456,213,"Co_{NPs}/Co-N-C");label(svg,458,276.7,"Co-N-C");
label(svg,537,250.7,"pyrrolic N",{fill:ORANGE});label(svg,599,250.7,"Co-N",{fill:RED});label(svg,627.7,255,"pyridinic N",{fill:SKY});label(svg,519,262,"graphitic N",{fill:BLUE});label(svg,517,276.7,"oxidic N",{fill:TEAL});
const axL=(x,y,s,rot,sz)=>label(svg,x,y,s,{anchor:"middle",rotate:rot,size:sz||13});
axL(129,213,"Intensity (a.u.)",-90,14.2);axL(430,213,"Intensity (a.u.)",-90,14.2);
axL(266.7,339,"Binding energy (eV)");axL(571,340,"Binding energy (eV)");
axL(102,452,"XANES (a.u.)",-90,14.2);axL(414,452,"FT k^{3}χ(k) (a.u.)",-90,13.8);
axL(106,685,"k^{3}χ(k) (a.u.)",-90,14);axL(414,687,"FT k^{3}χ(k) (a.u.)",-90,13.8);
axL(266,585.7,"Energy (eV)");axL(571.7,586,"R (Å)",0,14);axL(266.7,822,"R (Å)",0,14);axL(571.7,822,"R (Å)",0,14);

// ---------- PAGE TEXT ----------
const HB="#3f70ba";
page.append("text").attr("x",93).attr("y",84.5).attr("font-size",17).attr("font-weight",600).style("font-family","'Open Sans'").style("fill",HB).attr("textLength",106).attr("lengthAdjust","spacingAndGlyphs").text("ACS Catalysis");
page.append("text").attr("x",537.5).attr("y",84).attr("font-size",13).attr("font-weight",600).attr("text-anchor","middle").style("font-family","'Open Sans'").style("fill",HB).attr("textLength",157).attr("lengthAdjust","spacingAndGlyphs").text("pubs.acs.org/acscatalysis");
page.append("rect").attr("x",877).attr("y",69.5).attr("width",123).attr("height",20).attr("fill","#4673b9");
page.append("text").attr("x",938.5).attr("y",84).attr("font-size",13).attr("text-anchor","middle").style("font-family","'Open Sans'").style("fill","#fff").attr("textLength",98).attr("lengthAdjust","spacingAndGlyphs").text("Research Article");
page.append("rect").attr("x",93).attr("y",89.5).attr("width",907).attr("height",1.5).attr("fill","#4a7cc4");
page.append("rect").attr("x",93).attr("y",926).attr("width",907).attr("height",1).attr("fill","#6f9bd8");

function para(lines,x,w,y0,dy,size,opt={}){
  lines.forEach((s,i)=>{
    const indent=(opt.indent&&opt.indent.includes(i))?10:0;
    const t=page.append("text").attr("x",x+indent).attr("y",y0+i*dy).attr("font-size",size).style("font-family","'Liberation Serif',serif").style("fill","#1a1a1a").style("letter-spacing",(opt.ls||0)+"px");
    rich(t,s,size,{link:"#2a6fc9"});
    if(!(opt.noJust&&opt.noJust.includes(i))){
      const len=t.node().getComputedTextLength();
      const spaces=(t.text().match(/ /g)||[]).length;
      if(spaces>0)t.style("word-spacing",((w-indent-len)/spaces)+"px");
    }
  });
}
para(captionLines,93,907,860,18,14.8,{noJust:[3],ls:.05});
para(leftLines,93,432,952,20.1,16.6,{ls:.15});
para(rightLines,568,432,952,20.1,16.6,{indent:[7],noJust:[6],ls:.15});
page.append("text").attr("x",546).attr("y",1387).attr("font-size",12).attr("font-weight",700).attr("text-anchor","middle").style("font-family","'Open Sans'").style("fill","#222").text("15143");
page.append("text").attr("x",1000).attr("y",1386.5).attr("font-size",9.5).attr("text-anchor","end").style("fill","#2a6fc9").attr("textLength",183).attr("lengthAdjust","spacingAndGlyphs").text("https://doi.org/10.1021/acscatal.4c03990");
const ft=page.append("text").attr("x",1000).attr("y",1397.5).attr("font-size",9.5).attr("text-anchor","end").style("fill","#222").attr("textLength",157).attr("lengthAdjust","spacingAndGlyphs");
ft.append("tspan").attr("font-style","italic").text("ACS Catal.");ft.append("tspan").text(" 2024, 14, 15140−15149");
</script></body></html>
